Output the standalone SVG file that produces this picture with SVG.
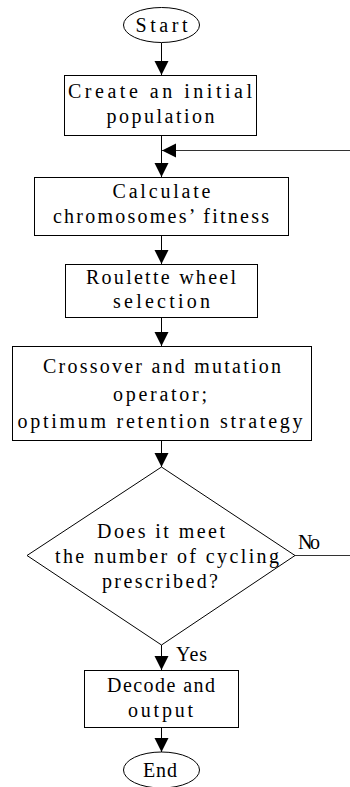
<svg xmlns="http://www.w3.org/2000/svg" width="350" height="787" viewBox="0 0 350 787">
<defs>
<marker id="ah" viewBox="0 0 14 16" refX="14" refY="7" markerWidth="14" markerHeight="16" markerUnits="userSpaceOnUse" orient="auto">
<path d="M0,0 L14,7 L0,14 Z" fill="#000"/>
</marker>
</defs>
<style>
.shape{fill:#fff;stroke:#000;stroke-width:1}
.t{font-family:"Liberation Serif","DejaVu Serif",serif;font-size:20px;fill:#000;text-anchor:middle}
.lbl{font-family:"Liberation Serif","DejaVu Serif",serif;font-size:20px;fill:#000}
.c{fill:none;stroke:#000;stroke-width:1}
</style>
<rect width="350" height="787" fill="#fff"/>
<g id="connectors">
<line class="c" x1="161.5" y1="43" x2="161.5" y2="75" marker-end="url(#ah)"/>
<line class="c" x1="161.5" y1="135" x2="161.5" y2="177" marker-end="url(#ah)"/>
<line class="c" x1="161.5" y1="236" x2="161.5" y2="264" marker-end="url(#ah)"/>
<line class="c" x1="161.5" y1="317" x2="161.5" y2="346" marker-end="url(#ah)"/>
<line class="c" x1="161.5" y1="440" x2="161.5" y2="467" marker-end="url(#ah)"/>
<line class="c" x1="161.5" y1="645" x2="161.5" y2="670" marker-end="url(#ah)"/>
<line class="c" x1="161.5" y1="727" x2="161.5" y2="752" marker-end="url(#ah)"/>
<path class="c" d="M295,555.5 H352 V150.5 H162" marker-end="url(#ah)" style="stroke:#333"/>
<text class="lbl" x="298" y="549" textLength="22" lengthAdjust="spacing">No</text>
<text class="lbl" x="176" y="661" textLength="31" lengthAdjust="spacing">Yes</text>
</g>
<g id="start">
<ellipse class="shape" cx="161.5" cy="25" rx="38" ry="17.5"/>
<text class="t" x="161.5" y="32" textLength="52" lengthAdjust="spacing">Start</text>
</g>
<g id="init">
<rect class="shape" x="64.5" y="75.5" width="192" height="60"/>
<text class="t" x="160" y="98" textLength="184" lengthAdjust="spacing">Create an initial</text>
<text class="t" x="160.5" y="123" textLength="108" lengthAdjust="spacing">population</text>
</g>
<g id="fitness">
<rect class="shape" x="34.5" y="177.5" width="254" height="58"/>
<text class="t" x="161.5" y="198" textLength="98" lengthAdjust="spacing">Calculate</text>
<text class="t" x="161" y="223" textLength="216" lengthAdjust="spacing">chromosomes’ fitness</text>
</g>
<g id="selection">
<rect class="shape" x="65.5" y="264.5" width="192" height="53"/>
<text class="t" x="161" y="284" textLength="150" lengthAdjust="spacing">Roulette wheel</text>
<text class="t" x="161.5" y="308" textLength="97" lengthAdjust="spacing">selection</text>
</g>
<g id="crossover">
<rect class="shape" x="12.5" y="346.5" width="299" height="94"/>
<text class="t" x="162" y="373" textLength="238" lengthAdjust="spacing">Crossover and mutation</text>
<text class="t" x="160" y="401" textLength="94" lengthAdjust="spacing">operator;</text>
<text class="t" x="160" y="428" textLength="285" lengthAdjust="spacing">optimum retention strategy</text>
</g>
<g id="decision">
<polygon class="shape" points="161.5,467 295,555.5 161.5,645 27,555.5"/>
<text class="t" x="161" y="538" textLength="128" lengthAdjust="spacing">Does it meet</text>
<text class="t" x="167" y="563" textLength="224" lengthAdjust="spacing">the number of cycling</text>
<text class="t" x="160" y="588" textLength="116" lengthAdjust="spacing">prescribed?</text>
</g>
<g id="decode">
<rect class="shape" x="84.5" y="670.5" width="154" height="57"/>
<text class="t" x="161" y="692" textLength="108" lengthAdjust="spacing">Decode and</text>
<text class="t" x="160.5" y="717" textLength="65" lengthAdjust="spacing">output</text>
</g>
<g id="end">
<ellipse class="shape" cx="161.5" cy="770" rx="38" ry="18"/>
<text class="t" x="160" y="777" textLength="34" lengthAdjust="spacing">End</text>
</g>
</svg>
